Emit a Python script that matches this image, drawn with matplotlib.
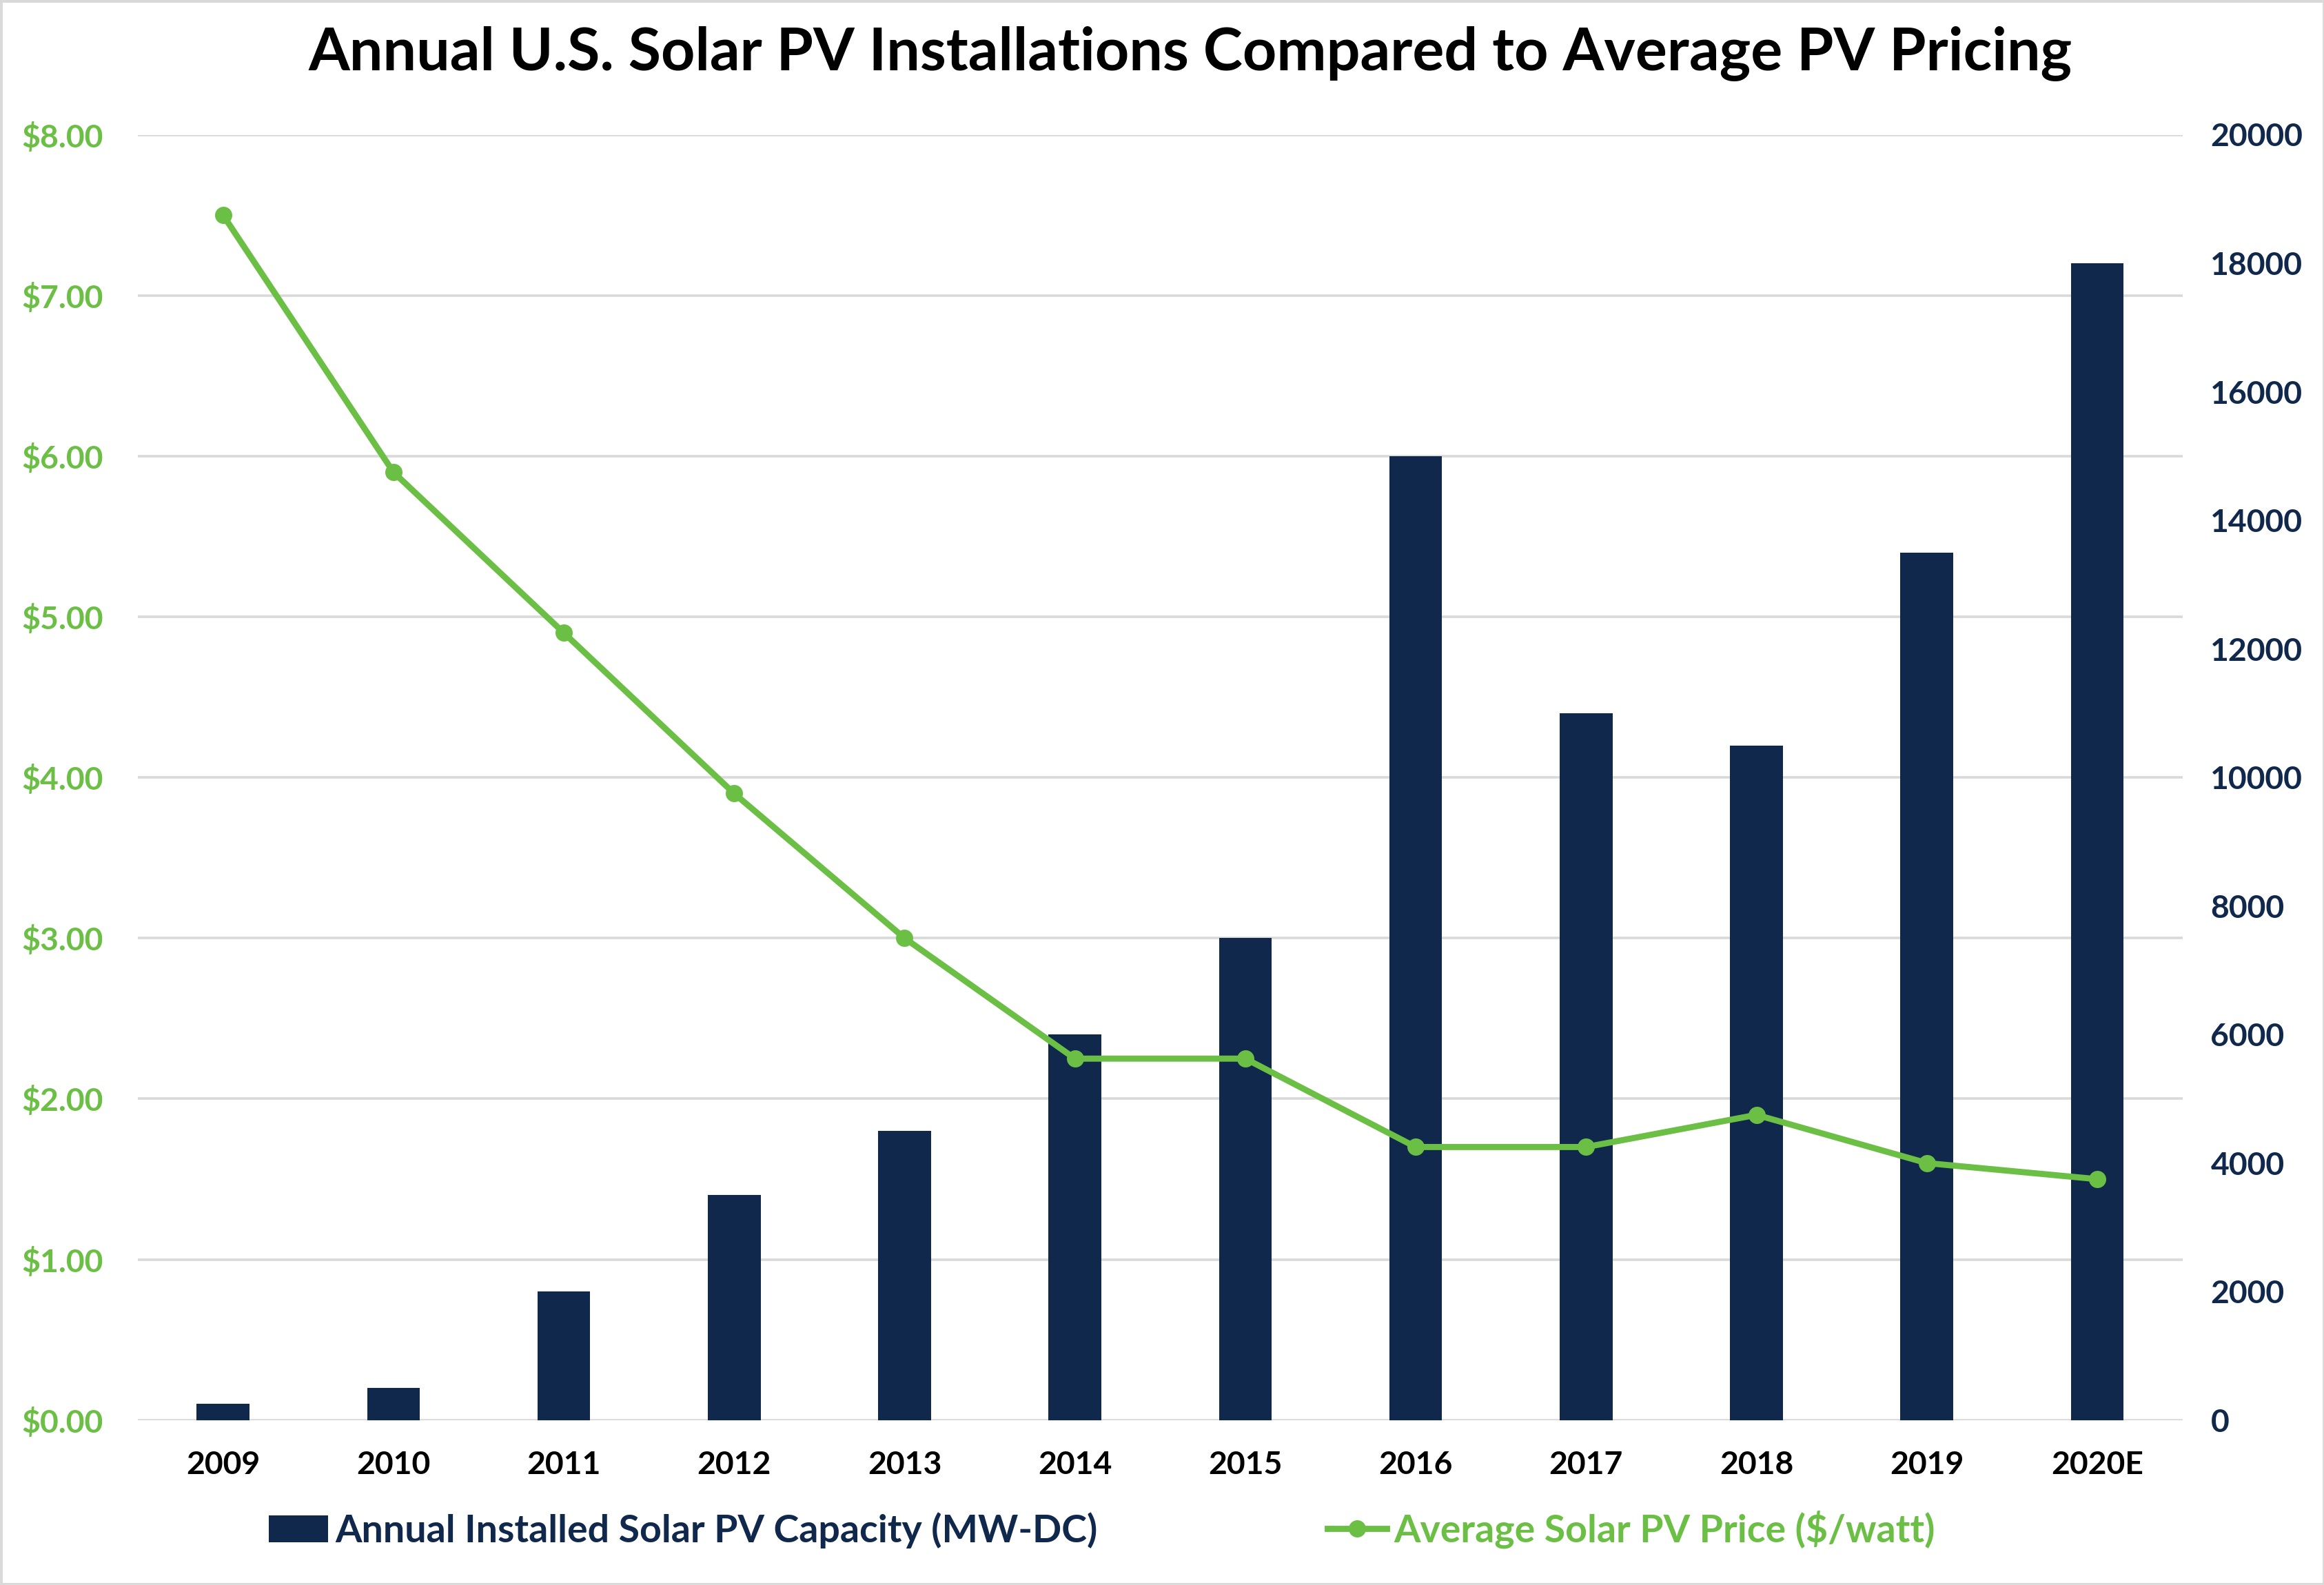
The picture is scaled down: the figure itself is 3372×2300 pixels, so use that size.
import matplotlib
matplotlib.use("Agg")
import matplotlib.pyplot as plt
from matplotlib.patches import Rectangle
from matplotlib.ticker import FuncFormatter

plt.rcParams['font.family'] = ['Lato', 'DejaVu Sans']

years = ["2009", "2010", "2011", "2012", "2013", "2014", "2015", "2016", "2017", "2018", "2019", "2020E"]
capacity_mw = [250, 500, 2000, 3500, 4500, 6000, 7500, 15000, 11000, 10500, 13500, 18000]
price_per_watt = [7.50, 5.90, 4.90, 3.90, 3.00, 2.25, 2.25, 1.70, 1.70, 1.90, 1.60, 1.50]
left_ticks = [0, 1, 2, 3, 4, 5, 6, 7, 8]
right_ticks = [0, 2000, 4000, 6000, 8000, 10000, 12000, 14000, 16000, 18000, 20000]

NAVY = "#10284B"
GREEN = "#6CBF45"
GRID = "#D9D9D9"

fig = plt.figure(figsize=(16.865, 11.5), dpi=200)
ax = fig.add_axes([0.0593, 0.104, 0.8795, 0.811])
ax2 = ax.twinx()

x = list(range(len(years)))
LMAX, RMAX = 8, 20000

# gridlines (at left-axis ticks) drawn on the bar axis, beneath the bars
for v in left_ticks:
    ax2.axhline(v * RMAX / LMAX, color=GRID, linewidth=1.3, zorder=0)

bars = ax2.bar(x, capacity_mw, width=0.31, color=NAVY, zorder=2,
               label="Annual Installed Solar PV Capacity (MW-DC)")
ax2.set_ylim(0, RMAX)
ax2.set_yticks(right_ticks)

ax.set_ylim(0, LMAX)
ax.set_yticks(left_ticks)
ax.set_xlim(-0.5, len(years) - 0.5)
ax.set_xticks(x)
ax.set_xticklabels(years)
ax.yaxis.set_major_formatter(FuncFormatter(lambda v, p: f"${v:.2f}"))

ax.set_zorder(ax2.get_zorder() + 1)
ax.patch.set_visible(False)
line, = ax.plot(x, price_per_watt, color=GREEN, linewidth=3.2, marker='o',
                markersize=8, zorder=5, label="Average Solar PV Price ($/watt)")

for a in (ax, ax2):
    for s in a.spines.values():
        s.set_visible(False)

ax.tick_params(axis='y', length=0, pad=18, labelsize=16.7, labelcolor=GREEN)
ax.tick_params(axis='x', length=0, pad=16, labelsize=16.7, labelcolor='black')
ax2.tick_params(axis='y', length=0, pad=14.7, labelsize=16.7, labelcolor=NAVY)
for lbl in ax.get_yticklabels() + ax.get_xticklabels() + ax2.get_yticklabels():
    lbl.set_fontweight('bold')

fig.text(0.512, 0.966, "Annual U.S. Solar PV Installations Compared to Average PV Pricing",
         ha='center', va='center', fontsize=31, fontweight='bold', color='black')

leg = fig.legend([bars, line],
                 ["Annual Installed Solar PV Capacity (MW-DC)", "Average Solar PV Price ($/watt)"],
                 loc='center', bbox_to_anchor=(0.474, 0.035), ncol=2, frameon=False,
                 fontsize=20, handlelength=1.55, handletextpad=0.19, columnspacing=6.0)
for t, c in zip(leg.get_texts(), [NAVY, GREEN]):
    t.set_color(c)
    t.set_fontweight('bold')

fig.patches.append(Rectangle((0, 0), 1, 1, transform=fig.transFigure, fill=False,
                             edgecolor=GRID, linewidth=2.5, zorder=10))

fig.savefig("out.png", dpi=200, facecolor='white')
